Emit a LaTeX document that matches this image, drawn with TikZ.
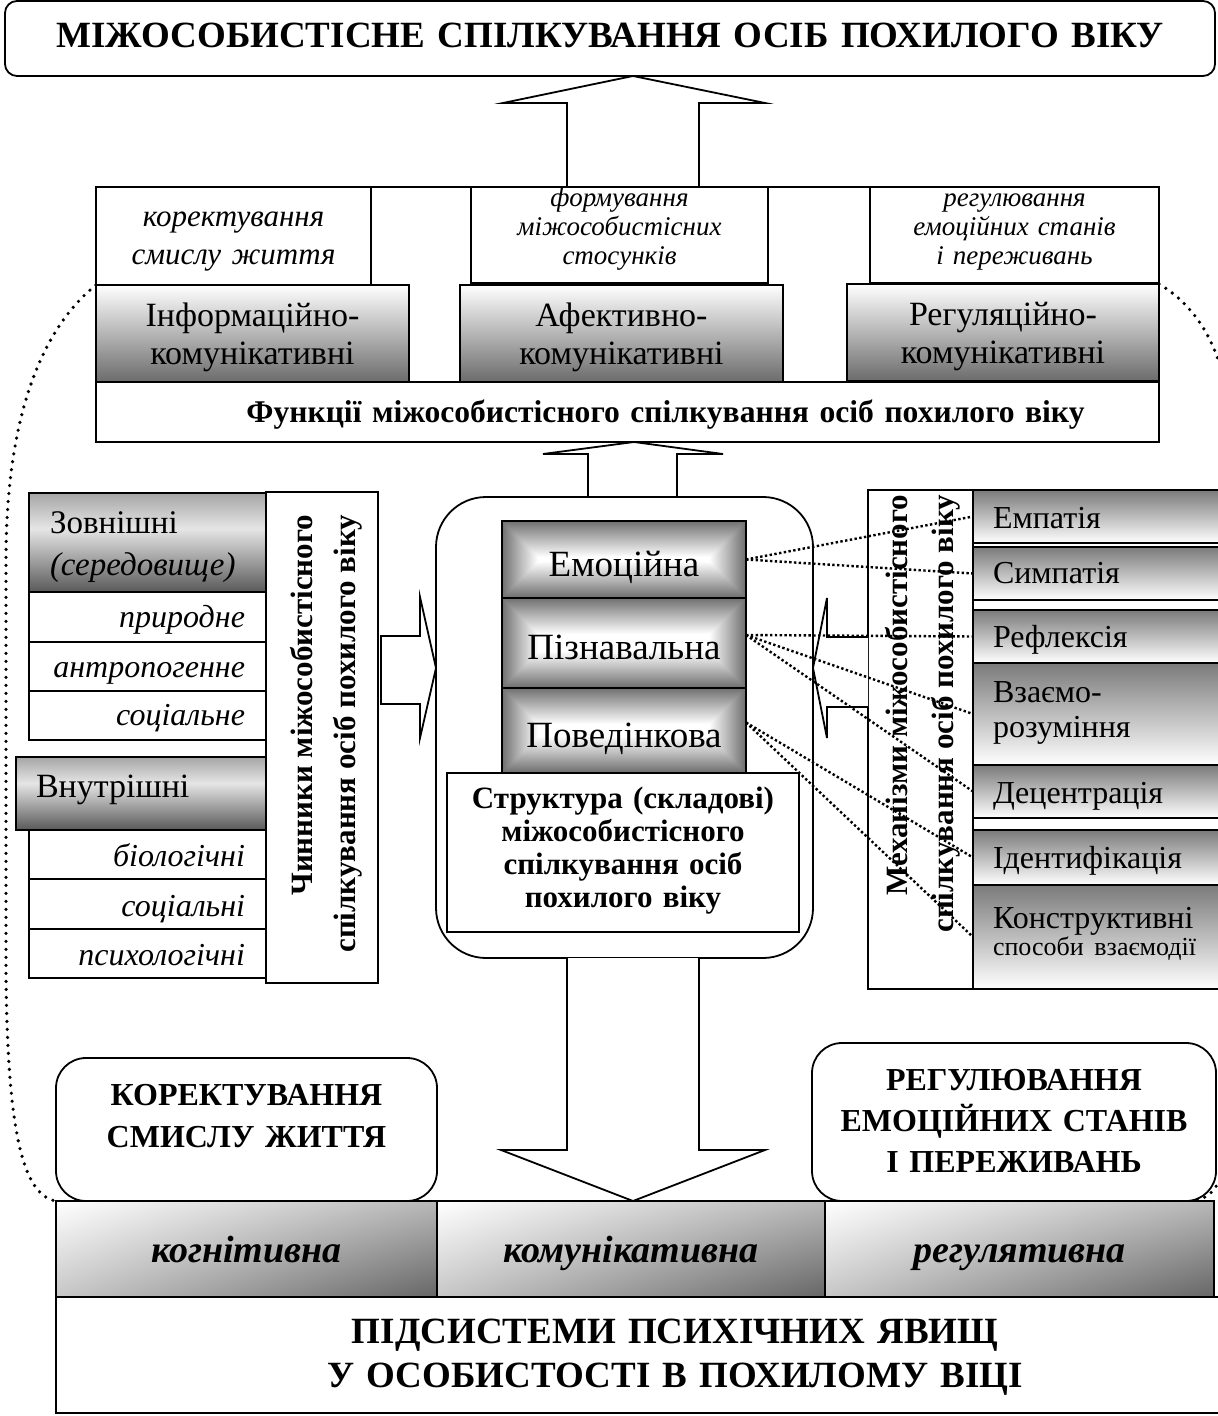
\documentclass[tikz,border=0pt]{standalone}
\usepackage{fontspec}
\usetikzlibrary{shadings}
\setmainfont{Liberation Serif}
\newcommand\fs[2]{\fontsize{#1}{#2}\selectfont}
\pgfdeclareverticalshading{zovn}{100bp}{color(0bp)=(black!65); color(25bp)=(black!65); color(57bp)=(black!10); color(75bp)=(black!35); color(100bp)=(black!35)}
% name, x1, y1, x2, y2, style, inset, text
\newcommand\mybox[8]{\node[inner xsep=#7, inner ysep=0pt, outer sep=0pt, text width={(#4-#2)*0.5pt-2*#7}, minimum height={(#5-#3)*0.5pt}, #6] (#1) at ({(#2+#4)/2},{(#3+#5)/2}) {#8};}
\newcommand\rectshade[4]{%
  \foreach \i in {0,...,36}{%
    \pgfmathsetmacro\myshv{56*(1-\i/36)}%
    \fill[black!\myshv] ({#1+\i},{#2+\i}) rectangle ({#3-\i},{#4-\i});
  }}
\begin{document}
\begin{tikzpicture}[x=0.5pt,y=-0.5pt, line width=0.9pt,
  bl/.style={text height=#1pt, text depth=0pt},
  bu/.style={text height=0pt, text depth=#1pt},
  bx/.style={draw, fill=white},
  fgray/.style={draw, top color=white, bottom color=black!58},
  mgray/.style={draw, top color=black!52, bottom color=white},
  zgray/.style={draw, shade, shading=zovn},
  bgray/.style={draw, upper left=white, upper right=black!28, lower left=black!22, lower right=black!60},
  rbox/.style={draw, fill=white, rounded corners=15pt},
  outerdot/.style={line width=1.8pt, dash pattern=on 0pt off 4pt, line cap=round},
  conn/.style={line width=1.2pt, dash pattern=on 1.2pt off 1.2pt},
  blockarrow/.style={draw, fill=white, line width=0.9pt}]
\useasboundingbox (0,0) rectangle (1218,1416);
\clip (0,0) rectangle (1218,1416);

% outer dotted bracket
\draw[outerdot] (96,285) .. controls (40,330) and (6,420) .. (6,560) -- (6,980) .. controls (8,1120) and (20,1195) .. (56,1201);
\draw[outerdot] (1159,284) .. controls (1195,305) and (1228,350) .. (1230,430) -- (1230,1100) .. controls (1230,1180) and (1215,1200) .. (1190,1201);

% title
\mybox{title}{5}{1}{1215}{76}{draw, fill=white, rounded corners=6pt, align=center, font=\fs{18.5}{22}\bfseries, bl=9.5}{0pt}{МІЖОСОБИСТІСНЕ СПІЛКУВАННЯ ОСІБ ПОХИЛОГО ВІКУ}

% arrow to title
\draw[blockarrow] (567,187) -- (567,103) -- (503,103) -- (633,76) -- (765,103) -- (699,103) -- (699,187);

% functions block
\mybox{fnframe}{96}{187}{1159}{442}{draw}{0pt}{}
\mybox{f1}{96}{187}{371}{285}{bx, align=center, font=\fs{15.5}{19}\itshape, bu=9}{0pt}{коректування\\смислу життя}
\mybox{f2}{471}{187}{768}{283}{bx, align=center, font=\fs{13.5}{14.5}\itshape, bu=28}{0pt}{формування\\міжособистісних\\стосунків}
\mybox{f3}{870}{187}{1159}{283}{bx, align=center, font=\fs{13.5}{14.5}\itshape, bu=28}{0pt}{регулювання\\емоційних станів\\і переживань}
\mybox{g1}{96}{285}{409}{382}{fgray, align=center, font=\fs{17}{19}, bu=6.5}{0pt}{Інформаційно-\\комунікативні}
\mybox{g2}{460}{285}{783}{382}{fgray, align=center, font=\fs{17}{19}, bu=6.5}{0pt}{Афективно-\\комунікативні}
\mybox{g3}{847}{284}{1159}{381}{fgray, align=center, font=\fs{17}{19}, bu=6.5}{0pt}{Регуляційно-\\комунікативні}
\mybox{fn}{96}{382}{1159}{442}{bx, align=center, font=\fs{15.8}{18}\bfseries, bl=11}{0pt}{\hspace*{38pt}Функції міжособистісного спілкування осіб похилого віку}

% arrow structure -> functions
\draw[blockarrow] (588,497) -- (588,454) -- (543,454) -- (634,442) -- (723,454) -- (677,454) -- (677,497);

% central container
\mybox{cont}{436}{497}{813}{958}{draw, fill=white, rounded corners=25pt}{0pt}{}
\rectshade{502}{521}{746}{598}
\rectshade{502}{598}{746}{688}
\rectshade{502}{688}{746}{773}
\mybox{emo}{502}{521}{746}{598}{draw, align=center, font=\fs{18.5}{20}, bl=17}{0pt}{Емоційна}
\mybox{piz}{502}{598}{746}{688}{draw, align=center, font=\fs{18.5}{20}, bl=16}{0pt}{Пізнавальна}
\mybox{pov}{502}{688}{746}{773}{draw, align=center, font=\fs{18.5}{20}, bl=16.5}{0pt}{Поведінкова}
\mybox{str}{447}{773}{799}{932}{bx, align=center, font=\fs{15.5}{16.5}\bfseries, bu=44.5}{0pt}{Структура (складові)\\міжособистісного\\спілкування осіб\\похилого віку}

% factors (left)
\mybox{chin}{266}{492}{378}{983}{bx}{0pt}{}
\node[rotate=90, anchor=east, inner sep=0pt, align=right, font=\fs{15.5}{21.5}\bfseries] (chint) at (326,514) {Чинники міжособистісного\\спілкування осіб похилого віку};
\mybox{zov}{29}{493}{266}{592}{zgray, align=left, font=\fs{16.5}{21}, bu=9.5}{10.5pt}{Зовнішні\\\textit{(середовище)}}
\mybox{z1}{29}{592}{266}{642}{bx, align=right, font=\fs{16}{18}\itshape, bl=10}{10.5pt}{природне}
\mybox{z2}{29}{642}{266}{691}{bx, align=right, font=\fs{16}{18}\itshape, bl=10.5}{10.5pt}{антропогенне}
\mybox{z3}{29}{691}{266}{740}{bx, align=right, font=\fs{16}{18}\itshape, bl=9.5}{10.5pt}{соціальне}
\mybox{vn}{16}{757}{266}{830}{zgray, align=left, font=\fs{17}{20}, bl=3.5}{10pt}{Внутрішні}
\mybox{v1}{29}{830}{266}{879}{bx, align=right, font=\fs{16}{18}\itshape, bl=12}{10.5pt}{біологічні}
\mybox{v2}{29}{879}{266}{929}{bx, align=right, font=\fs{16}{18}\itshape, bl=12}{10.5pt}{соціальні}
\mybox{v3}{29}{929}{266}{978}{bx, align=right, font=\fs{16}{18}\itshape, bl=11.5}{10.5pt}{психологічні}

% left arrow
\draw[blockarrow] (381,636) -- (420,636) -- (420,597) -- (436,668) -- (420,738) -- (420,704) -- (381,704) -- cycle;

% mechanisms (right)
\mybox{mech}{868}{490}{973}{989}{bx}{0pt}{}
\node[rotate=90, anchor=east, inner sep=0pt, align=right, font=\fs{15.5}{23}\bfseries] (mecht) at (923,494) {Механізми міжособистісного\\спілкування осіб похилого віку};
\mybox{emp}{973}{490}{1222}{543}{mgray, align=left, font=\fs{16}{19}, bl=11.5}{10pt}{Емпатія}
\mybox{sym}{973}{547}{1222}{600}{mgray, align=left, font=\fs{16}{19}, bl=9.5}{10pt}{Симпатія}
\mybox{ref}{973}{610}{1222}{663}{mgray, align=left, font=\fs{16}{19}, bl=10.5}{10pt}{Рефлексія}
\mybox{vz}{973}{663}{1222}{765}{mgray, align=left, font=\fs{16}{17.5}, bu=12}{10pt}{Взаємо-\\розуміння}
\mybox{dec}{973}{765}{1222}{818}{mgray, align=left, font=\fs{16}{19}, bl=11.5}{10pt}{Децентрація}
\mybox{ide}{973}{830}{1222}{885}{mgray, align=left, font=\fs{16}{19}, bl=10.5}{10pt}{Ідентифікація}
\mybox{kon}{973}{885}{1222}{989}{mgray, align=left, font=\fs{16}{12}, bu=9}{10pt}{Конструктивні\\{\fs{13}{12}способи взаємодії}}

% right arrow
\draw[blockarrow] (868,637) -- (827,637) -- (827,598) -- (813,668) -- (827,738) -- (827,707) -- (868,707);

% connectors structure -> mechanisms
\draw[conn] (emo.east) -- (emp.west);
\draw[conn] (emo.east) -- (sym.west);
\draw[conn] ([yshift=4pt]piz.east) -- (ref.west);
\draw[conn] ([yshift=4pt]piz.east) -- (vz.west);
\draw[conn] ([yshift=4pt]piz.east) -- (dec.west);
\draw[conn] ([yshift=4pt]pov.east) -- (ide.west);
\draw[conn] ([yshift=4pt]pov.east) -- (kon.west);

% down arrow
\draw[blockarrow] (567,958) -- (567,1150) -- (501,1150) -- (633,1201) -- (765,1150) -- (699,1150) -- (699,958);

% bottom rounded boxes
\mybox{kor}{56}{1058}{437}{1201}{rbox, align=center, font=\fs{16}{21}\bfseries, bu=24.5}{0pt}{КОРЕКТУВАННЯ\\СМИСЛУ ЖИТТЯ}
\mybox{reg}{812}{1043}{1216}{1201}{rbox, align=center, font=\fs{16}{20.5}\bfseries, bu=32}{0pt}{РЕГУЛЮВАННЯ\\ЕМОЦІЙНИХ СТАНІВ\\І ПЕРЕЖИВАНЬ}

% subsystems
\mybox{kog}{56}{1201}{437}{1297}{bgray, align=center, font=\fs{19}{20}\bfseries\itshape, bl=13}{0pt}{когнітивна}
\mybox{kom}{437}{1201}{825}{1297}{bgray, align=center, font=\fs{19}{20}\bfseries\itshape, bl=13}{0pt}{комунікативна}
\mybox{rgl}{825}{1201}{1214}{1297}{bgray, align=center, font=\fs{19}{20}\bfseries\itshape, bl=13}{0pt}{регулятивна}
\mybox{pid}{56}{1297}{1294}{1413}{bx, align=center, font=\fs{18.5}{22}\bfseries, bu=12}{0pt}{ПІДСИСТЕМИ ПСИХІЧНИХ ЯВИЩ\\У ОСОБИСТОСТІ В ПОХИЛОМУ ВІЦІ}
\end{tikzpicture}
\end{document}
